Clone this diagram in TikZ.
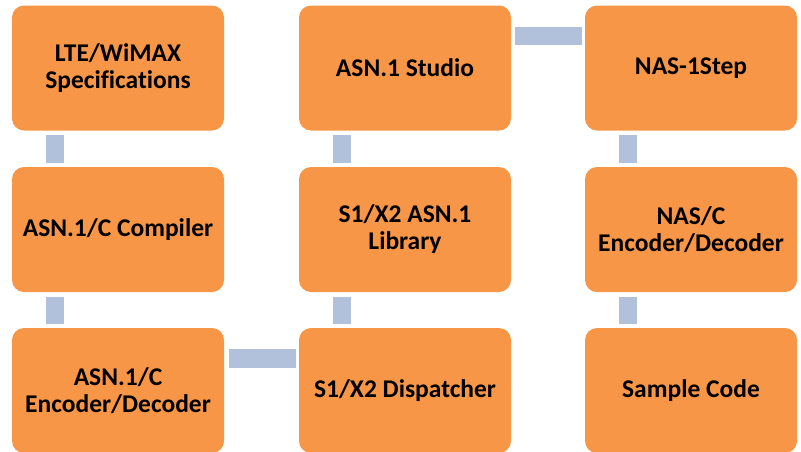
\documentclass[tikz,border=0pt]{standalone}
\usepackage{fontspec}
\setmainfont{Carlito}[Ligatures=NoCommon]
\usetikzlibrary{calc}
\definecolor{boxorange}{HTML}{F79646}
\definecolor{linkblue}{HTML}{B1C1DB}
\begin{document}
\begin{tikzpicture}[x=1pt,y=-1pt,
  card/.style={fill=boxorange, rounded corners=12pt, minimum width=212pt, minimum height=125pt,
    inner sep=0pt, align=center, font=\fontsize{25.5}{27}\selectfont\bfseries, text=black},
  link/.style={fill=linkblue, draw=white, line width=0.6pt}]
\useasboundingbox (0,0) rectangle (801,451);
\node[card] (lte) at (118,68) {LTE/WiMAX\\Specifications};
\node[card] (studio) at (405,68) {ASN.1 Studio};
\node[card] (nas) at (691,68) {NAS-1Step};
\node[card] (comp) at (118,229.5) {ASN.1/C Compiler};
\node[card] (lib) at (405,229.5) {S1/X2 ASN.1\\Library};
\node[card] (nasc) at (691,229.5) {NAS/C\\Encoder/Decoder};
\node[card] (enc) at (118,390.5) {ASN.1/C\\Encoder/Decoder};
\node[card] (disp) at (405,390.5) {S1/X2 Dispatcher};
\node[card] (sample) at (691,390.5) {Sample Code};
% vertical links
\foreach \a/\b in {lte/comp, comp/enc, studio/lib, lib/disp, nas/nasc, nasc/sample}{
  \draw[link] ($(\a.south west)+(33,4)$) rectangle ($(\b.north west)+(52,-4)$);
}
% horizontal links
\draw[link] ($(studio.north east)+(3,21)$) rectangle ($(nas.north west)+(-3,40)$);
\draw[link] ($(enc.north east)+(4,20)$) rectangle ($(disp.north west)+(-3,40)$);
\end{tikzpicture}
\end{document}
